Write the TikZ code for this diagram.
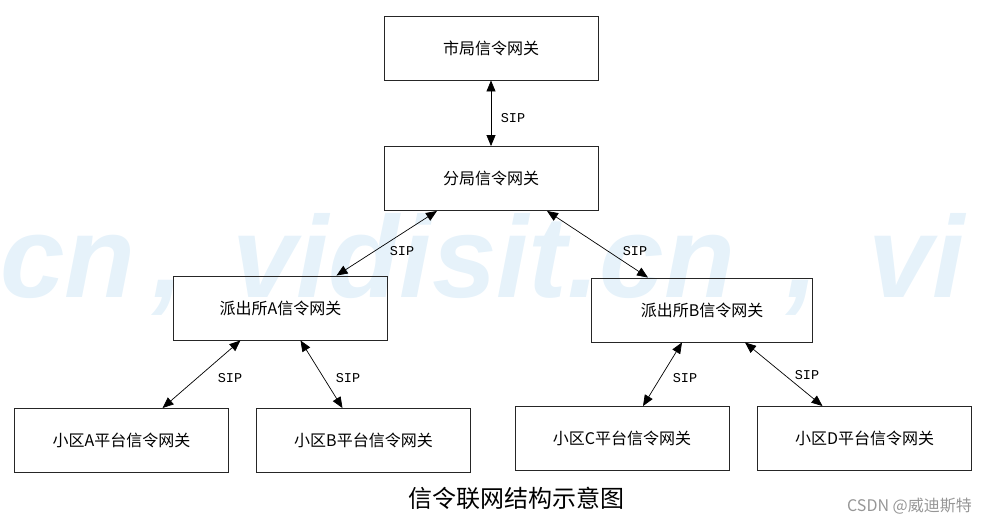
\documentclass[tikz,border=0pt]{standalone}
\usepackage{fontspec}
\setmainfont{Noto Sans CJK SC}
\setmonofont{Liberation Mono}
\newfontfamily\wmfont{Liberation Sans}
\usetikzlibrary{arrows.meta}
\definecolor{wmblue}{RGB}{230,242,250}
\definecolor{csdngray}{RGB}{150,150,150}

\begin{document}
\begin{tikzpicture}[x=1pt, y=-1pt,
    gw/.style={draw=black!85, line width=0.9pt, minimum width=214pt, minimum height=64pt, inner sep=0pt, font=\fontsize{16}{19}\selectfont},
    link/.style={{Triangle[length=11pt,width=9pt]}-{Triangle[length=11pt,width=9pt]}, line width=0.7pt},
    sip/.style={font=\ttfamily\fontsize{13.5}{16}\selectfont, inner sep=0pt},
    wm/.style={text=wmblue, font=\wmfont\bfseries\itshape\fontsize{116}{120}\selectfont, inner sep=0pt, anchor=base west}]
    \useasboundingbox (0,0) rectangle (987,524);

    % Watermark behind everything
    \begin{scope}
        \clip (0,0) rectangle (987,524);
        \node[wm] (wmA) at (0,297) {cn};
        \node[wm] (wmB) at (152,297) {,};
        \node[wm] (wmC) at (232,297) {vidisit.cn};
        \node[wm] (wmD) at (786,297) {,};
        \node[wm] (wmE) at (868,297) {vi};
    \end{scope}

    % Gateways
    \foreach \n/\x/\y/\t in {shiju/491/48/市局信令网关, fenju/491/178.5/分局信令网关,
                             paiA/280.5/308/派出所A信令网关,
                             xqA/121.5/440.5/小区A平台信令网关, xqB/363.5/440.5/小区B平台信令网关,
                             xqC/622/438.5/小区C平台信令网关, xqD/864.5/438.5/小区D平台信令网关} {
        \node[gw] (\n) at (\x,\y) {\t};
    }
    \node[gw, minimum width=221pt] (paiB) at (702,310) {派出所B信令网关};

    % SIP links
    \draw[link] (shiju.south) -- (fenju.north);
    \draw[link] ([xshift=-54pt]fenju.south) -- ([xshift=56pt]paiA.north);
    \draw[link] ([xshift=56pt]fenju.south) -- ([xshift=-54pt]paiB.north);
    \draw[link] ([xshift=-40pt]paiA.south) -- ([xshift=41pt]xqA.north);
    \draw[link] ([xshift=20pt]paiA.south) -- ([xshift=-21pt]xqB.north);
    \draw[link] ([xshift=-20pt]paiB.south) -- ([xshift=21pt]xqC.north);
    \draw[link] ([xshift=43pt]paiB.south) -- ([xshift=-42pt]xqD.north);

    \node[sip] (sip1) at (513,118) {SIP};
    \node[sip] (sip2) at (402,251) {SIP};
    \node[sip] (sip3) at (635,251) {SIP};
    \node[sip] (sip4) at (230,378) {SIP};
    \node[sip] (sip5) at (348,378) {SIP};
    \node[sip] (sip6) at (685,378) {SIP};
    \node[sip] (sip7) at (807,375) {SIP};

    % Caption
    \node[font=\fontsize{24}{28}\selectfont, inner sep=0pt] (caption) at (516.5,498) {信令联网结构示意图};
    \node[text=csdngray, font=\fontsize{16}{19}\selectfont, inner sep=0pt, anchor=east] (mark) at (972,506) {CSDN @威迪斯特};
\end{tikzpicture}
\end{document}
